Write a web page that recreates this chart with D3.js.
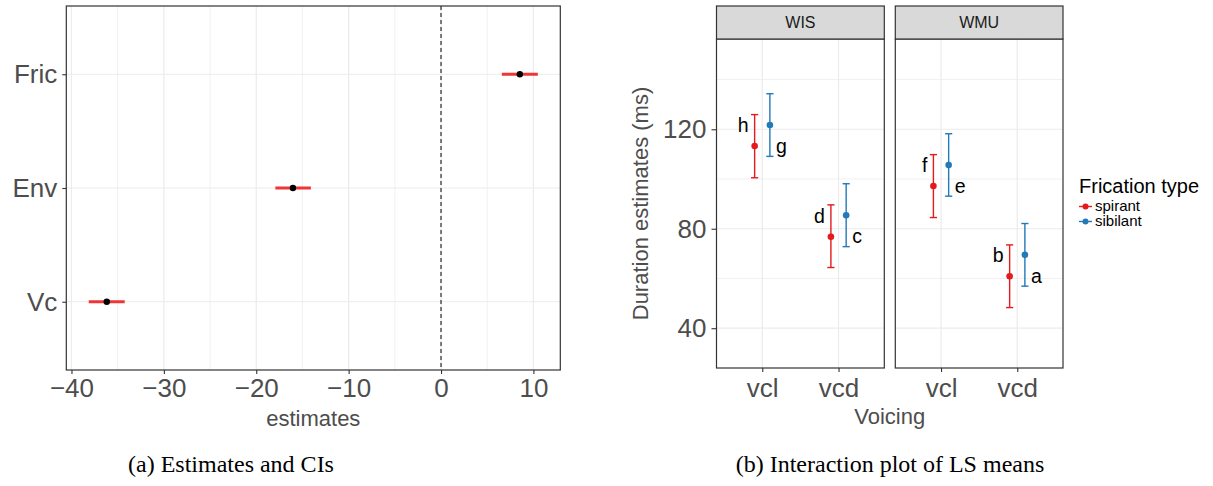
<!DOCTYPE html>
<html><head><meta charset="utf-8">
<script src="https://cdn.jsdelivr.net/npm/d3@7"></script>
<style>
body{margin:0;background:#fff}
svg{display:block}
.sans{font-family:"Liberation Sans",Arial,Helvetica,sans-serif}
.serif{font-family:"Liberation Serif","Times New Roman",serif}
</style>
</head><body>
<svg id="chart" width="1213" height="486" class="sans"></svg>
<script>
// ---------- Panel (a): estimates and CIs ----------
const terms = ["Fric", "Env", "Vc"];
const estimates = [8.53, -16.03, -36.18];
const ciLower = [6.58, -17.93, -38.13];
const ciUpper = [10.48, -14.09, -34.24];
const estTicks = [-40, -30, -20, -10, 0, 10];
const estMinorTicks = [-35, -25, -15, -5, 5];

// ---------- Panel (b): interaction plot of LS means ----------
const sites = ["WIS", "WMU"];
const voicingLevels = ["vcl", "vcd"];
const fricTypes = ["spirant", "sibilant"];
const lsSite    = ["WIS", "WIS", "WIS", "WIS", "WMU", "WMU", "WMU", "WMU"];
const lsVoicing = ["vcl", "vcl", "vcd", "vcd", "vcl", "vcl", "vcd", "vcd"];
const lsFric    = ["spirant", "sibilant", "spirant", "sibilant", "spirant", "sibilant", "spirant", "sibilant"];
const lsMean    = [113.3, 121.7, 76.8, 85.4, 97.2, 105.6, 60.9, 69.5];
const lsLower   = [100.5, 109.1, 64.4, 72.8, 84.5, 93.1, 48.3, 56.9];
const lsUpper   = [125.9, 134.3, 89.6, 98.1, 109.8, 118.2, 73.5, 82.1];
const lsLetter  = ["h", "g", "d", "c", "f", "e", "b", "a"];
const durTicks = [40, 80, 120];
const durMinorTicks = [60, 100, 140];
const durLimits = [24.0, 156.3];

const svg = d3.select("#chart");
const gridCol = "#ebebeb", borderCol = "#333333", textCol = "#4d4d4d";

// ================= Panel (a) =================
const A = {left: 66.3, right: 560.3, top: 6, bottom: 370};
const lo = d3.min(ciLower), hi = d3.max(ciUpper), ex = (hi - lo) * 0.05;
const xA = d3.scaleLinear().domain([lo - ex, hi + ex]).range([A.left, A.right]);
const yA = d3.scalePoint().domain(terms).range([A.top, A.bottom]).padding(0.6);

const gA = svg.append("g");
gA.append("rect").attr("x", A.left).attr("y", A.top).attr("width", A.right - A.left).attr("height", A.bottom - A.top).attr("fill", "#fff");
gA.selectAll("line.minor").data(estMinorTicks).join("line")
  .attr("x1", d => xA(d)).attr("x2", d => xA(d)).attr("y1", A.top).attr("y2", A.bottom)
  .attr("stroke", gridCol).attr("stroke-width", 0.7);
gA.selectAll("line.majx").data(estTicks).join("line")
  .attr("x1", d => xA(d)).attr("x2", d => xA(d)).attr("y1", A.top).attr("y2", A.bottom)
  .attr("stroke", gridCol).attr("stroke-width", 1.2);
gA.selectAll("line.majy").data(terms).join("line")
  .attr("x1", A.left).attr("x2", A.right).attr("y1", d => yA(d)).attr("y2", d => yA(d))
  .attr("stroke", gridCol).attr("stroke-width", 1.2);
// zero reference
gA.append("line").attr("x1", xA(0)).attr("x2", xA(0)).attr("y1", A.top).attr("y2", A.bottom)
  .attr("stroke", "#000").attr("stroke-width", 1).attr("stroke-dasharray", "4,3");
// CIs
gA.selectAll("line.ci").data(terms).join("line")
  .attr("x1", (d, i) => xA(ciLower[i])).attr("x2", (d, i) => xA(ciUpper[i]))
  .attr("y1", d => yA(d)).attr("y2", d => yA(d))
  .attr("stroke", "#ef3535").attr("stroke-width", 3);
gA.selectAll("circle.pt").data(terms).join("circle")
  .attr("cx", (d, i) => xA(estimates[i])).attr("cy", d => yA(d)).attr("r", 3.2).attr("fill", "#000");
gA.append("rect").attr("x", A.left).attr("y", A.top).attr("width", A.right - A.left).attr("height", A.bottom - A.top)
  .attr("fill", "none").attr("stroke", borderCol).attr("stroke-width", 1.2);

const axAx = gA.append("g").attr("transform", `translate(0,${A.bottom})`)
  .call(d3.axisBottom(xA).tickValues(estTicks).tickSize(4).tickPadding(5).tickFormat(d => d < 0 ? "\u2212" + Math.abs(d) : d));
const axAy = gA.append("g").attr("transform", `translate(${A.left},0)`)
  .call(d3.axisLeft(yA).tickSize(4).tickPadding(5));
[axAx, axAy].forEach(ax => {
  ax.attr("font-family", null).attr("font-size", null);
  ax.select(".domain").remove();
  ax.selectAll(".tick line").attr("stroke", borderCol).attr("stroke-width", 1.1);
  ax.selectAll(".tick text").attr("fill", textCol).style("font-size", "26px");
});
gA.append("text").attr("x", (A.left + A.right) / 2).attr("y", 426).attr("text-anchor", "middle")
  .style("font-size", "22px").attr("fill", textCol).text("estimates");

// ================= Panel (b) =================
const B = {top: 39, bottom: 368, stripTop: 6};
const panelsX = {WIS: [716.5, 884.3], WMU: [895.3, 1063]};
const yB = d3.scaleLinear().domain(durLimits).range([B.bottom, B.top]);
const colors = d3.scaleOrdinal().domain(fricTypes).range(["#e41a1c", "#2479b8"]);
const dodge = d3.scaleOrdinal().domain(fricTypes).range([-0.1, 0.1]);

const rows = lsMean.map((m, i) => ({site: lsSite[i], voicing: lsVoicing[i], fric: lsFric[i], mean: m, lower: lsLower[i], upper: lsUpper[i], letter: lsLetter[i]}));

sites.forEach(site => {
  const [x0, x1] = panelsX[site];
  const xB = d3.scalePoint().domain(voicingLevels).range([x0, x1]).padding(0.6);
  const step = xB.step();
  const g = svg.append("g");
  g.append("rect").attr("x", x0).attr("y", B.top).attr("width", x1 - x0).attr("height", B.bottom - B.top).attr("fill", "#fff");
  g.selectAll("line.minor").data(durMinorTicks).join("line")
    .attr("x1", x0).attr("x2", x1).attr("y1", d => yB(d)).attr("y2", d => yB(d))
    .attr("stroke", gridCol).attr("stroke-width", 0.7);
  g.selectAll("line.majy").data(durTicks).join("line")
    .attr("x1", x0).attr("x2", x1).attr("y1", d => yB(d)).attr("y2", d => yB(d))
    .attr("stroke", gridCol).attr("stroke-width", 1.2);
  g.selectAll("line.majx").data(voicingLevels).join("line")
    .attr("x1", d => xB(d)).attr("x2", d => xB(d)).attr("y1", B.top).attr("y2", B.bottom)
    .attr("stroke", gridCol).attr("stroke-width", 1.2);

  const data = rows.filter(r => r.site === site);
  const px = r => xB(r.voicing) + dodge(r.fric) * step;
  const cap = 3.6;
  const eb = g.selectAll("g.eb").data(data).join("g").attr("stroke", r => colors(r.fric)).attr("stroke-width", 1.4);
  eb.append("line").attr("x1", px).attr("x2", px).attr("y1", r => yB(r.lower)).attr("y2", r => yB(r.upper));
  eb.append("line").attr("x1", r => px(r) - cap).attr("x2", r => px(r) + cap).attr("y1", r => yB(r.upper)).attr("y2", r => yB(r.upper));
  eb.append("line").attr("x1", r => px(r) - cap).attr("x2", r => px(r) + cap).attr("y1", r => yB(r.lower)).attr("y2", r => yB(r.lower));
  g.selectAll("circle.pt").data(data).join("circle")
    .attr("cx", px).attr("cy", r => yB(r.mean)).attr("r", 3.3).attr("fill", r => colors(r.fric));
  g.selectAll("text.lab").data(data).join("text")
    .attr("x", r => r.fric === "spirant" ? px(r) - 6 : px(r) + 6)
    .attr("y", r => r.fric === "spirant" ? yB(r.mean) - 14 : yB(r.mean) + 28)
    .attr("text-anchor", r => r.fric === "spirant" ? "end" : "start")
    .style("font-size", "19.5px").attr("fill", "#000").text(r => r.letter);

  g.append("rect").attr("x", x0).attr("y", B.top).attr("width", x1 - x0).attr("height", B.bottom - B.top)
    .attr("fill", "none").attr("stroke", borderCol).attr("stroke-width", 1.2);
  // strip
  g.append("rect").attr("x", x0).attr("y", B.stripTop).attr("width", x1 - x0).attr("height", B.top - B.stripTop)
    .attr("fill", "#d9d9d9").attr("stroke", borderCol).attr("stroke-width", 1.2);
  g.append("text").attr("x", (x0 + x1) / 2).attr("y", (B.stripTop + B.top) / 2).attr("dy", "0.35em")
    .attr("text-anchor", "middle").style("font-size", "16px").attr("fill", "#1a1a1a").text(site);

  const axX = g.append("g").attr("transform", `translate(0,${B.bottom})`)
    .call(d3.axisBottom(xB).tickSize(4).tickPadding(7));
  axX.attr("font-family", null).attr("font-size", null);
  axX.select(".domain").remove();
  axX.selectAll(".tick line").attr("stroke", borderCol).attr("stroke-width", 1.1);
  axX.selectAll(".tick text").attr("fill", textCol).style("font-size", "26px");
});

const axBy = svg.append("g").attr("transform", `translate(${panelsX.WIS[0]},0)`)
  .call(d3.axisLeft(yB).tickValues(durTicks).tickSize(5).tickPadding(5));
axBy.attr("font-family", null).attr("font-size", null);
axBy.select(".domain").remove();
axBy.selectAll(".tick line").attr("stroke", borderCol).attr("stroke-width", 1.1);
axBy.selectAll(".tick text").attr("fill", textCol).style("font-size", "26px");

svg.append("text").attr("transform", `translate(648,${(B.top + B.bottom) / 2}) rotate(-90)`)
  .attr("text-anchor", "middle").style("font-size", "22px").attr("fill", textCol).text("Duration estimates (ms)");
svg.append("text").attr("x", (panelsX.WIS[0] + panelsX.WMU[1]) / 2).attr("y", 424).attr("text-anchor", "middle")
  .style("font-size", "22px").attr("fill", textCol).text("Voicing");

// legend
const lg = svg.append("g").attr("transform", "translate(1079,0)");
lg.append("text").attr("x", 0).attr("y", 193).style("font-size", "20px").attr("fill", "#000").text("Frication type");
const li = lg.selectAll("g.item").data(fricTypes).join("g").attr("transform", (d, i) => `translate(0,${206.5 + i * 15})`);
li.append("line").attr("x1", 0).attr("x2", 13).attr("stroke", d => colors(d)).attr("stroke-width", 1.4);
li.append("circle").attr("cx", 6.5).attr("r", 3).attr("fill", d => colors(d));
li.append("text").attr("x", 16).attr("dy", "0.33em").style("font-size", "15px").attr("fill", "#000").text(d => d);

// captions
svg.append("text").attr("class", "serif").attr("x", 231).attr("y", 472).attr("text-anchor", "middle")
  .style("font-size", "24px").attr("fill", "#000")
  .text("(a) Estimates and CIs");
svg.append("text").attr("class", "serif").attr("x", 890).attr("y", 472).attr("text-anchor", "middle")
  .style("font-size", "24px").attr("fill", "#000")
  .text("(b) Interaction plot of LS means");
</script>
</body></html>
